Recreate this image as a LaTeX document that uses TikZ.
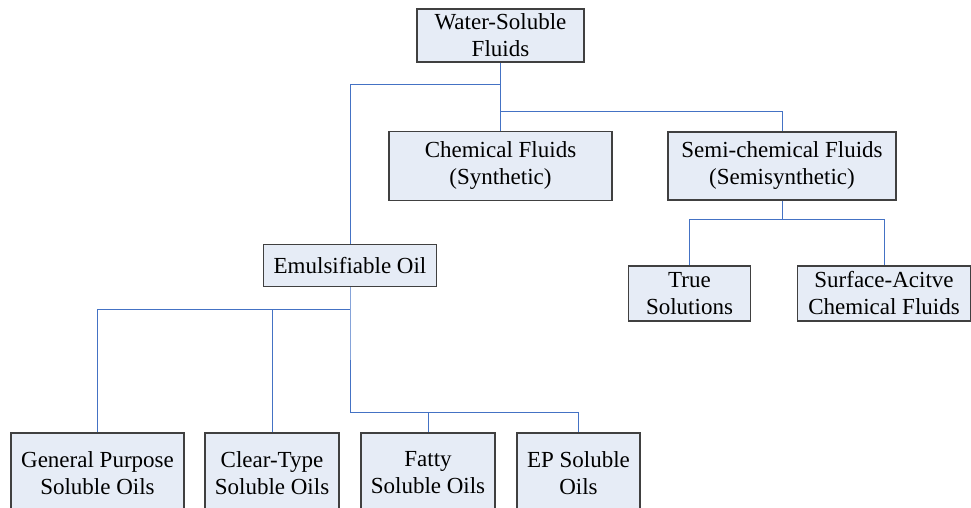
\documentclass[tikz,border=0pt]{standalone}
\usepackage{fontspec}
\setmainfont{LiberationSerif}[Extension=.ttf, UprightFont=*-Regular]
\usepackage{xcolor}
\usepackage{tikz}
\usetikzlibrary{positioning}

\definecolor{boxfill}{RGB}{230,236,246}
\definecolor{boxline}{RGB}{64,64,64}
\definecolor{linkblue}{RGB}{68,114,196}

\tikzset{
    fluid/.style={draw=boxline, fill=boxfill, line width=1.2pt, inner sep=0pt,
        align=center, font=\fontsize{23}{27}\selectfont},
    link/.style={draw=linkblue, line width=0.9pt},
}

\begin{document}
\begin{tikzpicture}[x=1pt, y=-1pt]
        \useasboundingbox (0,0) rectangle (971,508);
        \clip (0,0) rectangle (971,508);
        % top level
        \node[fluid, minimum width=167pt, minimum height=53pt] (wsf) at (500.5,35.5) {Water-Soluble\\Fluids};
        \node[fluid, minimum width=223pt, minimum height=69pt] (chem) at (500.5,166) {Chemical Fluids\\(Synthetic)};
        \node[fluid, minimum width=228pt, minimum height=68pt] (semi) at (782,166) {Semi-chemical Fluids\\(Semisynthetic)};
        \node[fluid, minimum width=122pt, minimum height=55pt] (true) at (689.5,293.5) {True\\Solutions};
        \node[fluid, minimum width=173pt, minimum height=55pt] (surf) at (884,293.5) {Surface-Acitve\\Chemical Fluids};
        \node[fluid, minimum width=173pt, minimum height=42pt] (emul) at (350,265.5) {Emulsifiable Oil};
        % soluble oils
        \node[fluid, minimum width=173pt, minimum height=80pt] (gen) at (97.5,473) {General Purpose\\Soluble Oils};
        \node[fluid, minimum width=134pt, minimum height=80pt] (clear) at (272,473) {Clear-Type\\Soluble Oils};
        \node[fluid, minimum width=134pt, minimum height=80pt] (fatty) at (428,473) {Fatty\\Soluble Oils};
        \node[fluid, minimum width=123pt, minimum height=80pt] (ep) at (578.5,473) {EP Soluble\\Oils};

        \draw[link] (wsf.south) -- ++(0,22) coordinate (wj1) -| (emul.north);
        \draw[link] (wj1) -- ++(0,27) coordinate (wj2) -- (chem.north);
        \draw[link] (wj2) -| (semi.north);

        \draw[link] (semi.south) -- ++(0,19) coordinate (sj);
        \draw[link] (true.north) |- (sj) -| (surf.north);

        \draw[link] (emul.south) -- ++(0,22) coordinate (ej1) -- ++(0,103) coordinate (ej2);
        \draw[link] (gen.north) |- (ej1);
        \draw[link] (clear.north) |- (ej1);
        \draw[link] (fatty.north) |- (ej2);
        \draw[link] (ep.north) |- (ej2);
    \end{tikzpicture}
\end{document}
